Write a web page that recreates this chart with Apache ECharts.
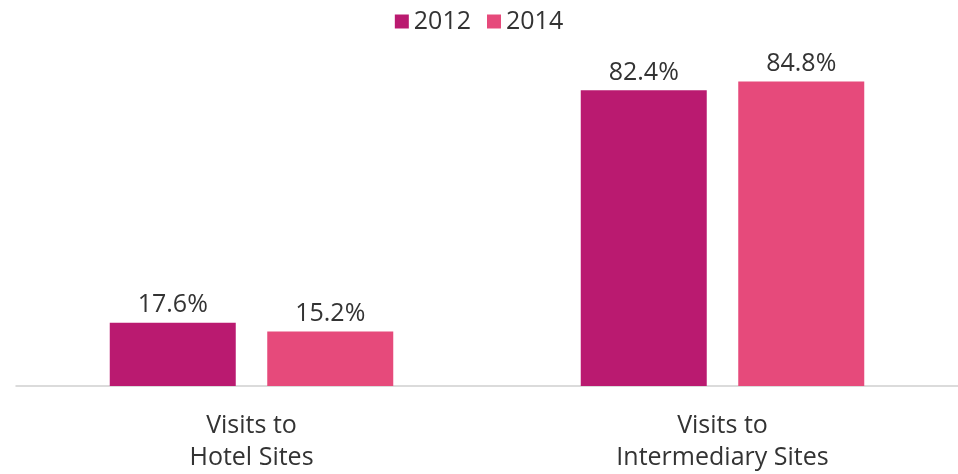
<!DOCTYPE html>
<html>
<head>
<meta charset="utf-8">
<script src="https://cdn.jsdelivr.net/npm/echarts@6/dist/echarts.min.js"></script>
<style>
  html, body { margin: 0; padding: 0; background: #fff; }
  #chart { width: 958px; height: 474px; }
</style>
</head>
<body>
<div id="chart"></div>
<script>
const categories = ["Visits to\nHotel Sites", "Visits to\nIntermediary Sites"];
const seriesNames = ["2012", "2014"];
const values2012 = [17.6, 82.4];
const values2014 = [15.2, 84.8];

const colors = ["#BA1A70", "#E64A7B"];
const font = "'Open Sans', 'Liberation Sans', sans-serif";

let myChart = echarts.init(document.getElementById("chart"));

let labelStyle = {
  show: true,
  position: "top",
  distance: 5,
  formatter: "{c}%",
  color: "#333",
  fontSize: 25,
  fontFamily: font,
};

let option = {
  animation: false,
  color: colors,
  legend: {
    data: seriesNames,
    top: 4,
    left: "center",
    icon: "rect",
    itemWidth: 14,
    itemHeight: 14,
    itemGap: 16,
    textStyle: { color: "#333", fontSize: 25, fontFamily: font },
  },
  grid: { left: 16, right: 0, top: 27, bottom: 84, containLabel: false },
  xAxis: {
    type: "category",
    data: categories,
    axisLine: { lineStyle: { color: "#d0d0d0", width: 1.5 } },
    axisTick: { show: false },
    axisLabel: {
      color: "#333",
      fontSize: 25,
      fontFamily: font,
      lineHeight: 32,
      margin: 24,
    },
  },
  yAxis: {
    type: "value",
    min: 0,
    max: 100,
    show: false,
    splitLine: { show: false },
  },
  series: [
    {
      name: seriesNames[0],
      type: "bar",
      data: values2012,
      barWidth: 126,
      barGap: "25%",
      label: labelStyle,
    },
    {
      name: seriesNames[1],
      type: "bar",
      data: values2014,
      barWidth: 126,
      barGap: "25%",
      label: labelStyle,
    },
  ],
};

myChart.setOption(option);
</script>
</body>
</html>
